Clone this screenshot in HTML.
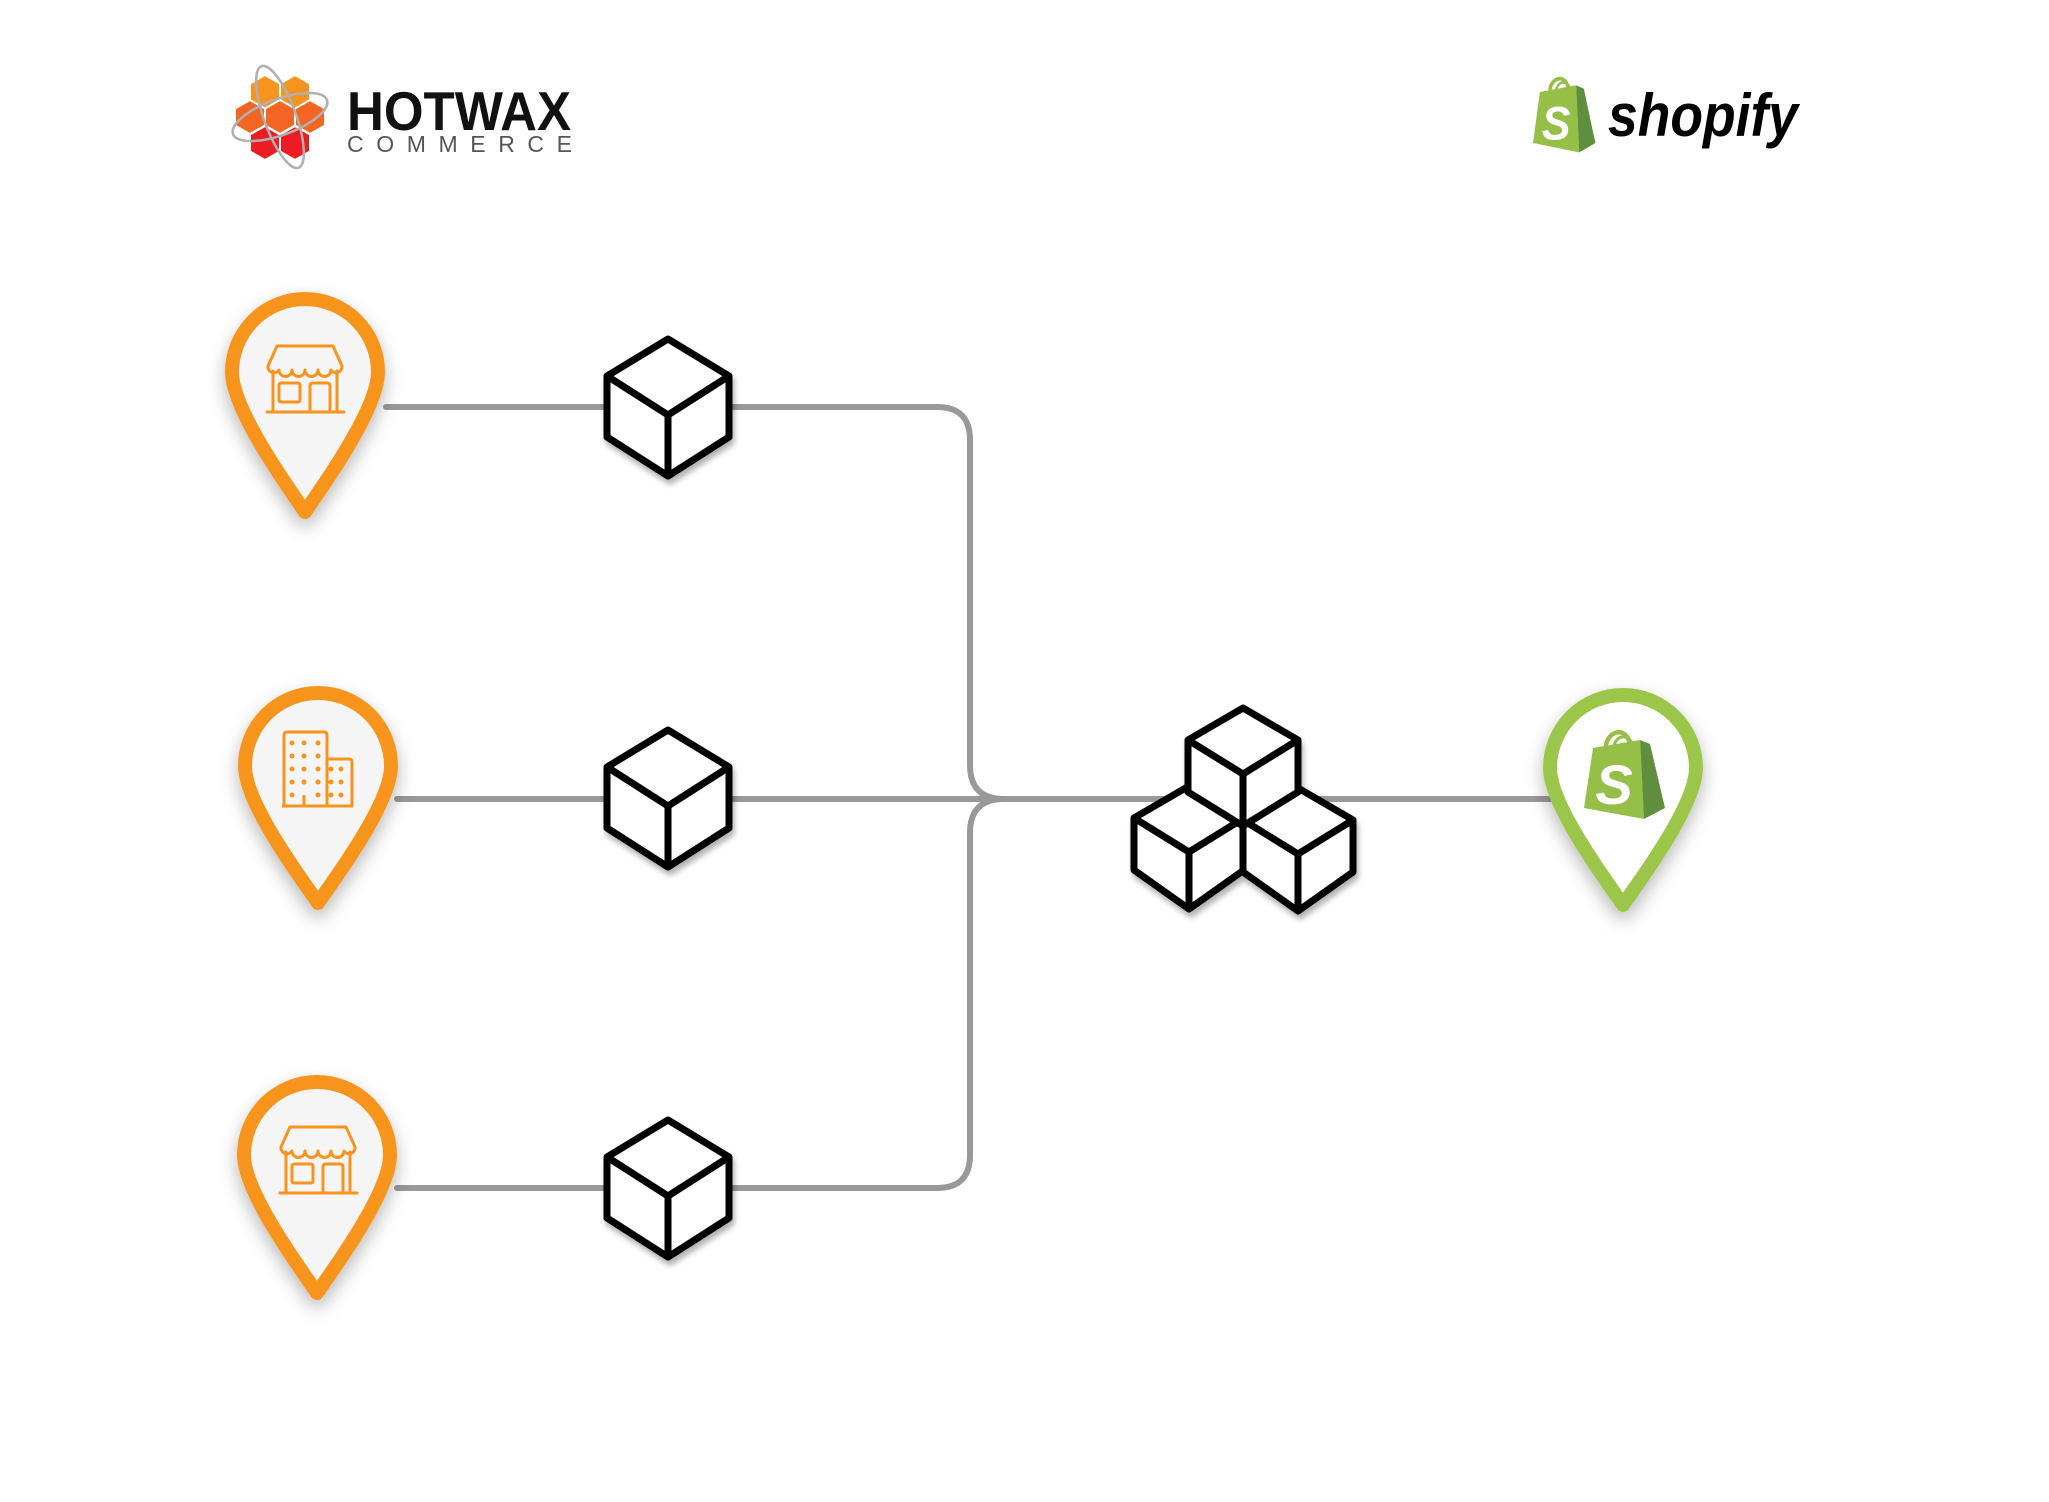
<!DOCTYPE html>
<html><head><meta charset="utf-8"><style>
html,body{margin:0;padding:0;background:#fff;}
svg{display:block}
</style></head><body>
<svg width="2049" height="1502" viewBox="0 0 2049 1502" xmlns="http://www.w3.org/2000/svg">
<defs>
<filter id="sh" x="-40%" y="-40%" width="180%" height="180%">
<feDropShadow dx="0" dy="8" stdDeviation="9" flood-color="#000" flood-opacity="0.28"/>
</filter>
<filter id="sh2" x="-30%" y="-30%" width="160%" height="160%">
<feDropShadow dx="2" dy="5" stdDeviation="3" flood-color="#000" flood-opacity="0.3"/>
</filter>
<g id="store" fill="none" stroke="#F7941D" stroke-width="3" stroke-linejoin="round" stroke-linecap="round">
<path d="M10 4 H66 L75 24 A6 6 0 0 1 64 28 A6.5 6.5 0 0 1 51 28 A6.5 6.5 0 0 1 38 28 A6.5 6.5 0 0 1 25 28 A6.5 6.5 0 0 1 12 28 A6 6 0 0 1 1 24 Z"/>
<path d="M6 29 V69 M70 29 V69 M0 70 H77"/>
<rect x="12" y="41" width="21" height="19" rx="2"/>
<path d="M43 69 V44 Q43 41 46 41 H60 Q63 41 63 44 V69"/>
</g>
<g id="bag">
<path d="M22 22 C20 4 42 -4 46 16" fill="none" stroke="#95BF47" stroke-width="4.5"/>
<path d="M30 20 C30 8 44 4 48 16" fill="none" stroke="#95BF47" stroke-width="3"/>
<polygon points="9,20 56,12 60,91 0,80" fill="#95BF47"/>
<polygon points="56,12 66,16 81,80 60,91" fill="#5E8E3E"/>
<text x="30" y="76" font-family="Liberation Sans, sans-serif" font-weight="bold" font-style="italic" font-size="56" fill="#fff" text-anchor="middle">S</text>
</g>
</defs>

<g>
<g stroke="#fff" stroke-width="2">
<polygon points="265,75 280,83.5 280,100.5 265,109 250,100.5 250,83.5" fill="#F7941D"/>
<polygon points="295,75 310,83.5 310,100.5 295,109 280,100.5 280,83.5" fill="#F7941D"/>
<polygon points="250,100 265,108.5 265,125.5 250,134 235,125.5 235,108.5" fill="#F26522"/>
<polygon points="280,100 295,108.5 295,125.5 280,134 265,125.5 265,108.5" fill="#F26522"/>
<polygon points="310,100 325,108.5 325,125.5 310,134 295,125.5 295,108.5" fill="#F26522"/>
<polygon points="265,126 280,134.5 280,151.5 265,160 250,151.5 250,134.5" fill="#ED1C24"/>
<polygon points="295,126 310,134.5 310,151.5 295,160 280,151.5 280,134.5" fill="#ED1C24"/>
</g>
<g fill="none" stroke="#b0b0b0" stroke-width="2.5">
<ellipse cx="280" cy="117" rx="50" ry="18" transform="rotate(-20 280 117)"/>
<ellipse cx="280" cy="117" rx="54" ry="16" transform="rotate(70 280 117)"/>
</g>
<text x="347" y="130" font-family="Liberation Sans, sans-serif" font-weight="bold" font-size="55" fill="#111" textLength="224" lengthAdjust="spacingAndGlyphs">HOTWAX</text>
<text x="347" y="152" font-family="Liberation Sans, sans-serif" font-size="23" fill="#555" textLength="225" lengthAdjust="spacing">COMMERCE</text>
</g>

<use href="#bag" transform="translate(1533,75) scale(0.77,0.85)"/>
<text x="1608" y="136" font-family="Liberation Sans, sans-serif" font-weight="bold" font-style="italic" font-size="60" fill="#000" textLength="190" lengthAdjust="spacingAndGlyphs">shopify</text>

<g fill="none" stroke="#999" stroke-width="6" stroke-linecap="round">
<path d="M386 407 H937 Q970 407 970 440 V765 Q970 799 1004 799"/>
<path d="M397 1188 H937 Q970 1188 970 1155 V833 Q970 799 1004 799"/>
<path d="M397 799 H1554"/>
</g>

<path d="M305 512 C290 490 232 410 232 372 A73 73 0 0 1 378 372 C378 410 320 490 305 512 Z" fill="#f5f5f5" stroke="#F7941D" stroke-width="14" stroke-linejoin="round" filter="url(#sh)"/>
<use href="#store" transform="translate(267,342)"/>

<path d="M318 903 C303 881 245 804 245 766 A73 73 0 0 1 391 766 C391 804 333 881 318 903 Z" fill="#f5f5f5" stroke="#F7941D" stroke-width="14" stroke-linejoin="round" filter="url(#sh)"/>
<g fill="none" stroke="#F7941D" stroke-width="3" stroke-linejoin="round">
<path d="M284 806 V735 Q284 732 287 732 H324 Q327 732 327 735 V806"/>
<path d="M327 759 H349 Q352 759 352 762 V806"/>
<path d="M282 806 H353 M304 806 V795"/>
</g>
<g fill="#F7941D">
<circle cx="292" cy="743" r="2.5"/><circle cx="304" cy="743" r="2.5"/><circle cx="318" cy="743" r="2.5"/>
<circle cx="292" cy="756" r="2.5"/><circle cx="304" cy="756" r="2.5"/><circle cx="318" cy="756" r="2.5"/>
<circle cx="292" cy="769" r="2.5"/><circle cx="304" cy="769" r="2.5"/><circle cx="318" cy="769" r="2.5"/>
<circle cx="292" cy="782" r="2.5"/><circle cx="304" cy="782" r="2.5"/><circle cx="318" cy="782" r="2.5"/>
<circle cx="292" cy="795" r="2.5"/><circle cx="318" cy="795" r="2.5"/>
<circle cx="331" cy="769" r="2.5"/><circle cx="341" cy="769" r="2.5"/>
<circle cx="331" cy="782" r="2.5"/><circle cx="341" cy="782" r="2.5"/>
<circle cx="331" cy="795" r="2.5"/><circle cx="341" cy="795" r="2.5"/>
</g>

<path d="M317 1293 C302 1271 244 1193 244 1155 A73 73 0 0 1 390 1155 C390 1193 332 1271 317 1293 Z" fill="#f5f5f5" stroke="#F7941D" stroke-width="14" stroke-linejoin="round" filter="url(#sh)"/>
<use href="#store" transform="translate(280,1123)"/>

<path d="M1623 905 C1608 883 1550 806 1550 768 A73 73 0 0 1 1696 768 C1696 806 1638 883 1623 905 Z" fill="#fff" stroke="#9BC64A" stroke-width="14" stroke-linejoin="round" filter="url(#sh)"/>
<use href="#bag" transform="translate(1584,728)"/>

<g fill="#fff" stroke="#000" stroke-width="7" stroke-linejoin="round" filter="url(#sh2)">
<g transform="translate(668,339)">
<path d="M0 0 L61 37 L61 98 L0 137 L-61 98 L-61 37 Z"/><path d="M-61 37 L0 76 L61 37 M0 76 V137"/>
</g>
<g transform="translate(668,730)">
<path d="M0 0 L61 37 L61 98 L0 137 L-61 98 L-61 37 Z"/><path d="M-61 37 L0 76 L61 37 M0 76 V137"/>
</g>
<g transform="translate(668,1120)">
<path d="M0 0 L61 37 L61 98 L0 137 L-61 98 L-61 37 Z"/><path d="M-61 37 L0 76 L61 37 M0 76 V137"/>
</g>
</g>

<g fill="#fff" stroke="#000" stroke-width="7" stroke-linejoin="round" filter="url(#sh2)">
<g transform="translate(1189,786)">
<path d="M0 0 L55 32 L55 84 L0 123 L-55 84 L-55 32 Z"/><path d="M-55 32 L0 66 L55 32 M0 66 V123"/>
</g>
<g transform="translate(1298,788)">
<path d="M0 0 L55 32 L55 84 L0 123 L-55 84 L-55 32 Z"/><path d="M-55 32 L0 66 L55 32 M0 66 V123"/>
</g>
<g transform="translate(1243,708)">
<path d="M0 0 L55 32 L55 84 L0 118 L-55 84 L-55 32 Z"/><path d="M-55 32 L0 66 L55 32 M0 66 V118"/>
</g>
</g>
</svg>
</body></html>
